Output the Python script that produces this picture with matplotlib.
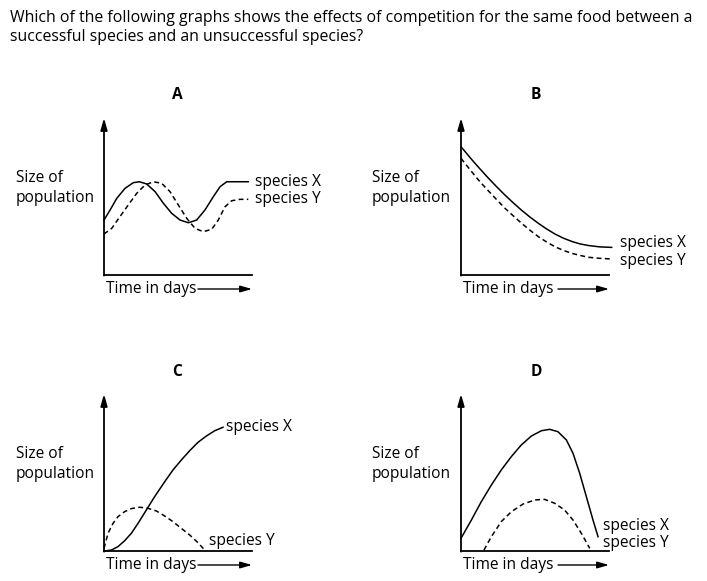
import matplotlib
matplotlib.use("Agg")
import matplotlib.pyplot as plt

plt.rcParams['font.family'] = ['Open Sans', 'DejaVu Sans']

W, H = 707, 581
FS = 11.2

question = ["Which of the following graphs shows the effects of competition for the same food between a",
            "successful species and an unsuccessful species?"]

# panel A  (time, population), 0-10 scale
a_x_t = [0, 0.41, 0.86, 1.42, 1.98, 2.39, 2.88, 3.45, 4.01, 4.57, 5.14, 5.70, 6.26, 6.82, 7.39, 7.84, 8.29, 9.75]
a_x_v = [3.50, 4.14, 4.88, 5.52, 5.88, 5.94, 5.80, 5.31, 4.57, 3.93, 3.50, 3.33, 3.50, 4.14, 4.99, 5.62, 5.94, 5.94]
a_y_t = [0, 0.52, 1.08, 1.64, 2.21, 2.77, 3.33, 3.90, 4.46, 5.02, 5.59, 6.15, 6.71, 7.28, 7.72, 8.18, 8.63, 9.19, 9.75]
a_y_v = [2.61, 2.97, 3.72, 4.46, 5.20, 5.73, 5.94, 5.84, 5.31, 4.46, 3.61, 2.97, 2.76, 2.91, 3.50, 4.35, 4.73, 4.82, 4.82]

# panel B
b_x_t = [0, 0.72, 1.28, 1.85, 2.41, 2.97, 3.54, 4.10, 4.66, 5.23, 5.79, 6.35, 6.91, 7.48, 8.04, 8.60, 9.39, 10.18]
b_x_v = [8.17, 7.36, 6.76, 6.17, 5.62, 5.09, 4.59, 4.12, 3.69, 3.29, 2.93, 2.61, 2.35, 2.14, 1.98, 1.88, 1.79, 1.76]
b_y_t = [0, 0.72, 1.28, 1.85, 2.41, 2.97, 3.54, 4.10, 4.66, 5.23, 5.79, 6.35, 6.91, 7.48, 8.04, 8.60, 9.39, 10.18]
b_y_v = [7.43, 6.58, 5.94, 5.36, 4.80, 4.25, 3.76, 3.29, 2.85, 2.44, 2.10, 1.80, 1.57, 1.38, 1.25, 1.13, 1.06, 1.02]

# panel C
c_x_t = [0, 0.50, 0.95, 1.40, 1.85, 2.30, 2.86, 3.42, 4.10, 4.66, 5.23, 5.79, 6.35, 6.91, 7.48, 8.04]
c_x_v = [0, 0.06, 0.28, 0.66, 1.13, 1.76, 2.61, 3.46, 4.41, 5.16, 5.80, 6.39, 6.92, 7.32, 7.66, 7.88]
c_y_t = [0, 0.27, 0.61, 0.95, 1.40, 1.85, 2.41, 2.97, 3.54, 4.10, 4.66, 5.23, 5.79, 6.35, 6.80]
c_y_v = [0.17, 1.13, 1.76, 2.19, 2.51, 2.70, 2.79, 2.72, 2.55, 2.23, 1.87, 1.44, 1.02, 0.53, 0.06]

# panel D
d_x_t = [0, 0.70, 1.37, 2.05, 2.72, 3.40, 4.07, 4.75, 5.43, 5.99, 6.55, 7.12, 7.57, 8.02, 8.47, 8.92, 9.26]
d_x_v = [0.81, 1.97, 3.14, 4.20, 5.16, 6.01, 6.75, 7.32, 7.66, 7.75, 7.60, 7.07, 6.22, 4.95, 3.46, 1.97, 0.91]
d_y_t = [1.55, 2.05, 2.72, 3.40, 4.19, 4.98, 5.65, 6.33, 7.00, 7.57, 8.13, 8.70]
d_y_v = [0.06, 0.91, 1.87, 2.50, 2.99, 3.25, 3.29, 3.04, 2.61, 1.97, 1.13, 0.17]

# label positions (time, population) for species X / Y
label_pos = {
    "A": [(10.2, 5.94), (10.2, 4.82)],
    "B": [(10.74, 2.04), (10.74, 0.89)],
    "C": [(8.24, 7.88), (7.1, 0.64)],
    "D": [(9.6, 1.59), (9.6, 0.51)],
}

panels = [
    ("A", 104, 275, a_x_t, a_x_v, a_y_t, a_y_v),
    ("B", 461, 275, b_x_t, b_x_v, b_y_t, b_y_v),
    ("C", 104, 551, c_x_t, c_x_v, c_y_t, c_y_v),
    ("D", 461, 551, d_x_t, d_x_v, d_y_t, d_y_v),
]

fig = plt.figure(figsize=(W / 100, H / 100), dpi=100)
fig.patch.set_facecolor("white")

fig.text(10 / W, 1 - 18 / H, question[0], fontsize=11.45, va="center", ha="left")
fig.text(10 / W, 1 - 37 / H, question[1], fontsize=11.45, va="center", ha="left")

for name, left, base, xt, xv, yt, yv in panels:
    ax = fig.add_axes([left / W, (H - base) / H, 148 / W, 157 / H])
    ax.set_xlim(0, 10)
    ax.set_ylim(0, 10)
    for s in ["top", "right", "left"]:
        ax.spines[s].set_visible(False)
    ax.spines["bottom"].set_linewidth(1.3)
    ax.set_xticks([])
    ax.set_yticks([])
    ax.patch.set_alpha(0)

    ax.plot(xt, xv, color="black", lw=1.1, clip_on=False, solid_joinstyle="round")
    ax.plot(yt, yv, color="black", lw=1.1, ls=(0, (3.2, 2.2)), clip_on=False)

    (lx, ly), (mx, my) = label_pos[name]
    ax.text(lx, ly, "species X", fontsize=FS, va="center", ha="left", clip_on=False)
    ax.text(mx, my, "species Y", fontsize=FS, va="center", ha="left", clip_on=False)

    # y axis with arrow head
    ax.annotate("", xy=(0, 1.0), xytext=(0, -0.004), xycoords="axes fraction",
                arrowprops=dict(arrowstyle="-|>,head_length=0.7,head_width=0.2",
                                color="black", lw=1.3, shrinkA=0, shrinkB=0))

    # time arrow
    start = 94 if name in "AC" else 97
    ax.annotate("", xy=(1.0, -14 / 157), xytext=(start / 148, -14 / 157),
                xycoords="axes fraction",
                arrowprops=dict(arrowstyle="-|>,head_length=0.7,head_width=0.2",
                                color="black", lw=1.0, shrinkA=0, shrinkB=0))
    fig.text((left + 2) / W, (H - base - 14) / H, "Time in days", fontsize=FS, va="center", ha="left")

    # panel letter and y label
    cx = 177 if name in "AC" else 536
    ty = 95 if name in "AB" else 372
    fig.text(cx / W, 1 - ty / H, name, fontsize=FS, fontweight="bold", ha="center", va="center")
    lbl_x = 16 if name in "AC" else 372
    fig.text(lbl_x / W, 1 - (base - 97) / H, "Size of", fontsize=FS, va="center", ha="left")
    fig.text(lbl_x / W, 1 - (base - 77) / H, "population", fontsize=FS, va="center", ha="left")

fig.savefig("out.png", dpi=100)
